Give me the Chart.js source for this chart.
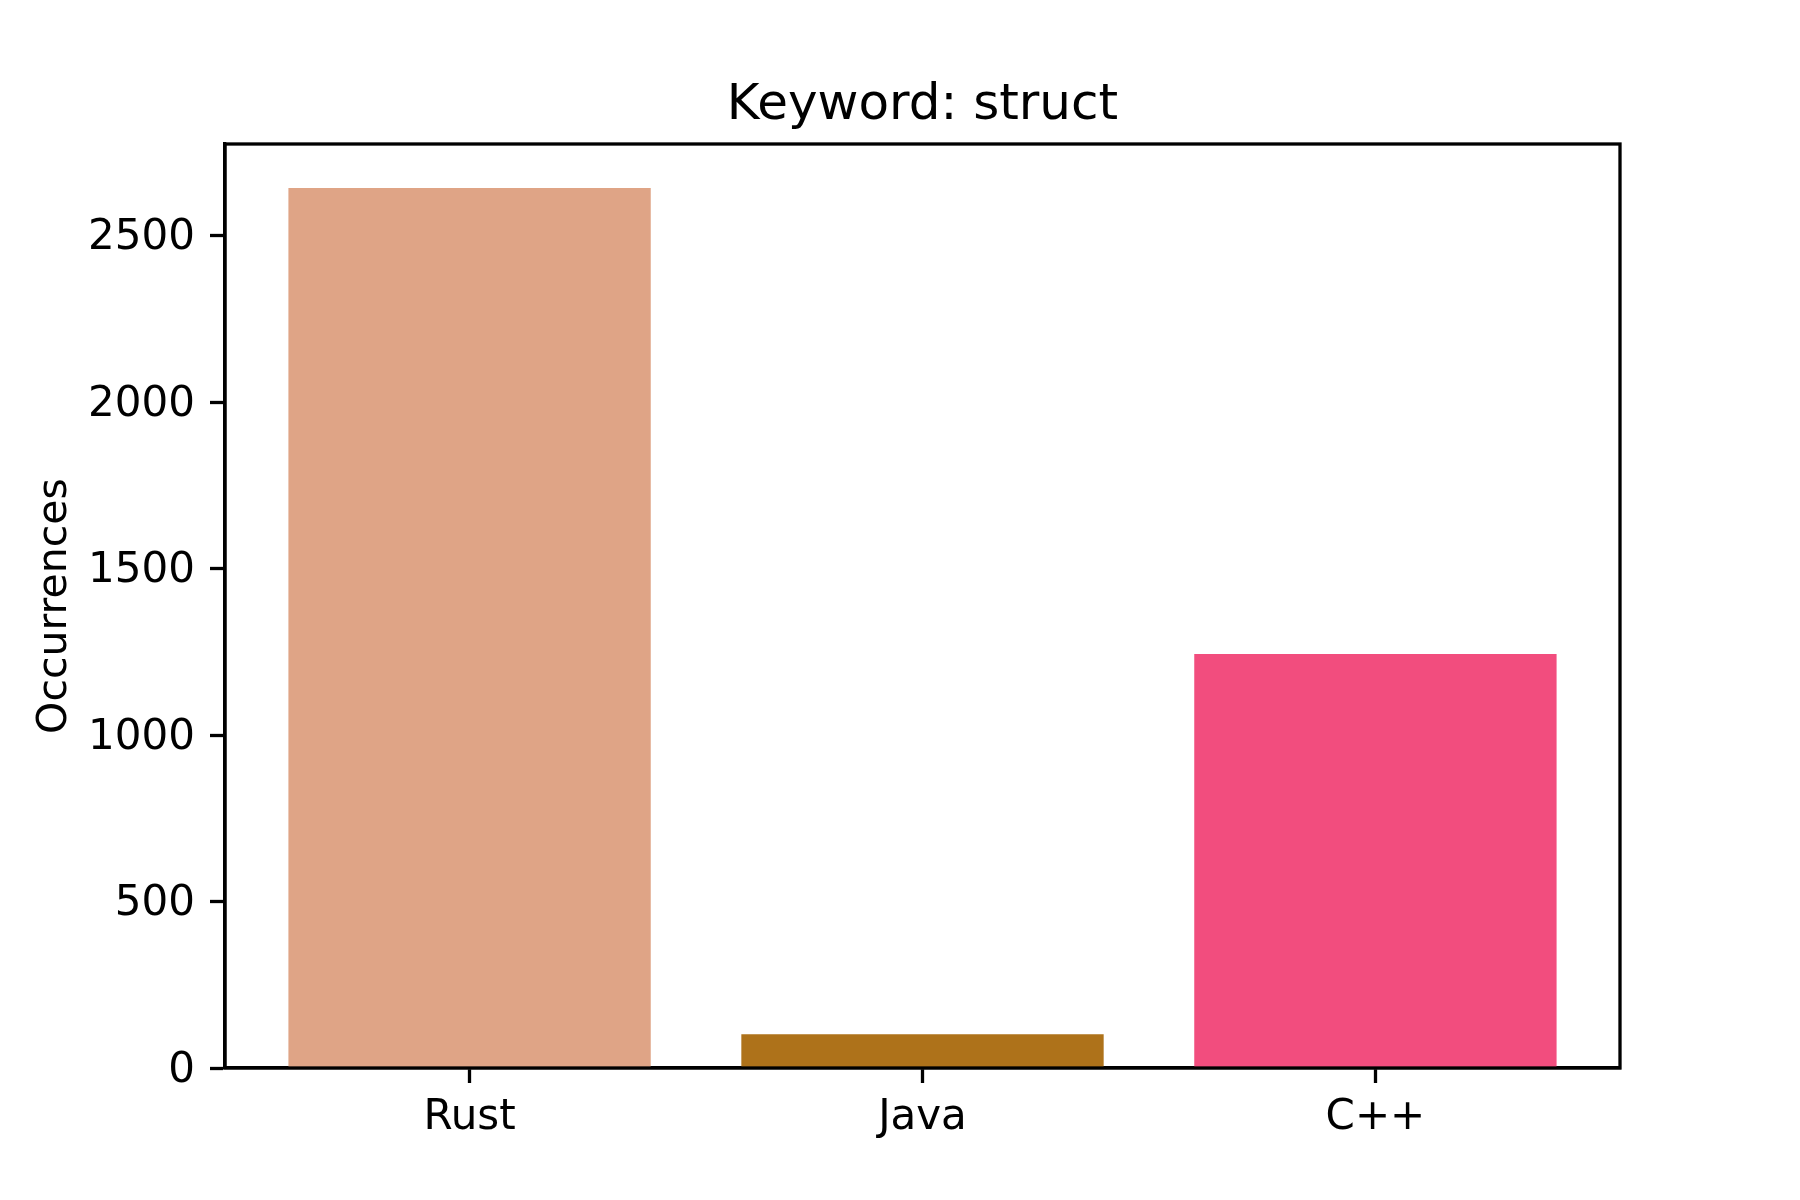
<!DOCTYPE html>
<html>
<head>
<meta charset="utf-8">
<script src="https://cdn.jsdelivr.net/npm/chart.js@4/dist/chart.umd.min.js"></script>
<style>
html,body{margin:0;padding:0;background:#fff;}
#wrap{width:1800px;height:1200px;}
</style>
</head>
<body>
<div id="wrap"><canvas id="c" width="1800" height="1200"></canvas></div>
<script>
const categories = ["Rust", "Java", "C++"];
const occurrences = [2643, 101, 1243];
const barColors = ["#dfa486", "#ae721a", "#f24d7e"];
const yTicks = [0, 500, 1000, 1500, 2000, 2500];
const titleText = "Keyword: struct";
const yLabel = "Occurrences";

const FONT = "'DejaVu Sans', sans-serif";

const frame = {
  id: 'frame',
  afterDatasetsDraw(chart) {
    const a = chart.chartArea, ctx = chart.ctx;
    ctx.save();
    ctx.strokeStyle = '#000';
    ctx.lineWidth = 3.3;
    ctx.strokeRect(a.left, a.top, a.right - a.left, a.bottom - a.top);
    ctx.restore();
  }
};

new Chart(document.getElementById('c'), {
  type: 'bar',
  data: {
    datasets: [{
      data: categories.map((c, i) => ({x: i, y: occurrences[i]})),
      backgroundColor: barColors,
      borderWidth: 0,
      barPercentage: 0.8,
      categoryPercentage: 1.0
    }]
  },
  options: {
    responsive: false,
    animation: false,
    devicePixelRatio: 1,
    layout: {padding: {left: 0, right: 180, top: 0, bottom: 0}},
    plugins: {
      legend: {display: false},
      tooltip: {enabled: false},
      title: {
        display: true,
        text: titleText,
        fullSize: false,
        color: '#000',
        font: {family: FONT, size: 50, weight: 'normal', lineHeight: 1.2},
        padding: {top: 76, bottom: 8}
      }
    },
    scales: {
      x: {
        type: 'linear',
        min: -0.54,
        max: 2.54,
        offset: false,
        afterBuildTicks(s) { s.ticks = categories.map((c, i) => ({value: i})); },
        afterFit(s) { s.height = 132; },
        ticks: {
          callback: (v) => categories[Math.round(v)] ?? '',
          color: '#000',
          font: {family: FONT, size: 42},
          padding: 10,
          maxRotation: 0,
          autoSkip: false
        },
        grid: {offset: false, drawOnChartArea: false, drawTicks: true, tickLength: 15, tickWidth: 3.3, tickColor: '#000'},
        border: {display: true, color: '#000', width: 3.3}
      },
      y: {
        type: 'linear',
        min: 0,
        max: 2775,
        afterBuildTicks(s) { s.ticks = yTicks.map(v => ({value: v})); },
        afterFit(s) { s.width = 225; },
        ticks: {
          callback: (v) => String(v),
          color: '#000',
          font: {family: FONT, size: 42},
          padding: 15,
          labelOffset: 3,
          autoSkip: false
        },
        title: {
          display: true,
          text: yLabel,
          color: '#000',
          font: {family: FONT, size: 41, lineHeight: 1.2},
          padding: {top: 31, bottom: 4}
        },
        grid: {drawOnChartArea: false, drawTicks: true, tickLength: 15, tickWidth: 3.3, tickColor: '#000'},
        border: {display: true, color: '#000', width: 3.3}
      }
    }
  },
  plugins: [frame]
});
</script>
</body>
</html>
